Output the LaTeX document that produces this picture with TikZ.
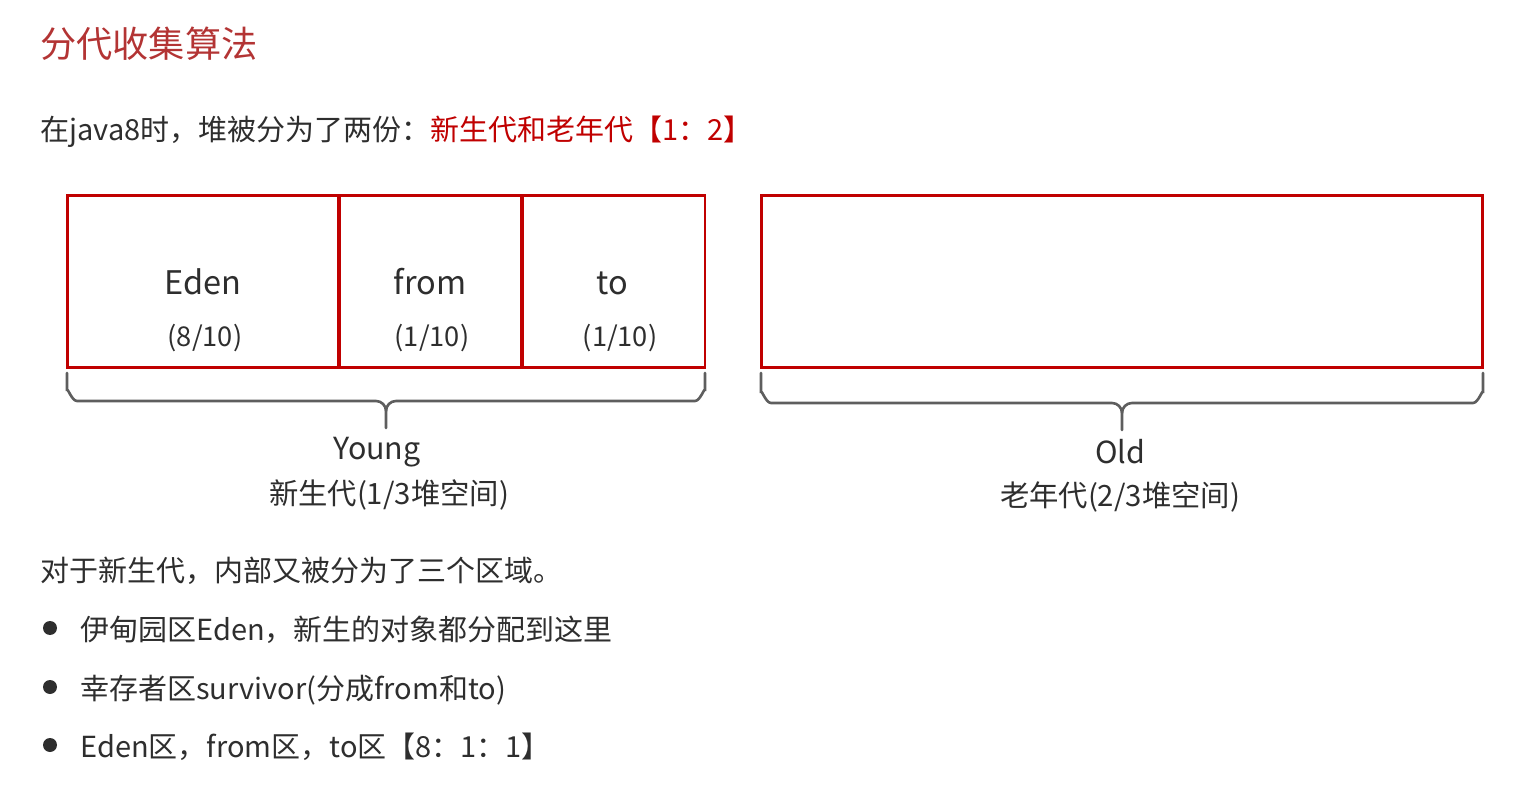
\documentclass[tikz,border=0pt]{standalone}
\usepackage{fontspec}
\setmainfont{Noto Sans CJK SC}
\usepackage{xcolor}
\usetikzlibrary{positioning}
\definecolor{heapred}{HTML}{C00000}
\definecolor{titlered}{HTML}{B33434}
\definecolor{ink}{HTML}{2E2E2E}
\definecolor{bracegray}{HTML}{5E5E5E}

\begin{document}
\begin{tikzpicture}[
	x=0.02cm, y=-0.02cm,
	every node/.style={text=ink, inner sep=0pt},
	cell/.style={draw=heapred, line width=1.7pt, minimum height=3.46cm},
	textline/.style={anchor=base west, font=\fontsize{16.5}{19}\selectfont},
	areaname/.style={anchor=base, font=\fontsize{18.5}{22}\selectfont},
	areafrac/.style={anchor=base, font=\fontsize{15.5}{18}\selectfont},
	genname/.style={anchor=base, font=\fontsize{17.3}{20}\selectfont},
	gennote/.style={anchor=base, font=\fontsize{16.7}{20}\selectfont},
	bracket/.style={draw=bracegray, line width=1.5pt, line cap=round}
	]
	\useasboundingbox (0,0) rectangle (1520,786);
	
	% heading
	\node[anchor=base west, text=titlered, font=\fontsize{20.6}{24}\selectfont] (title) at (40,58) {分代收集算法};
	\node[textline] (intro) at (40,141) {在java8时，堆被分为了两份：\textcolor{heapred}{新生代和老年代【1：2】}};
	
	% heap
	\node[cell, minimum width=5.44cm] (eden) at (203,281.5) {};
	\node[cell, minimum width=3.66cm] (from) at (430.5,281.5) {};
	\node[cell, minimum width=3.66cm] (to) at (613.5,281.5) {};
	\node[cell, minimum width=14.44cm] (old) at (1122,281.5) {};
	
	\node[areaname] (edenname) at (203,295) {Eden};
	\node[areafrac] (edenfrac) at (205,347) {(8/10)};
	\node[areaname] (fromname) at (430,295) {from};
	\node[areafrac] (fromfrac) at (432,347) {(1/10)};
	\node[areaname] (toname) at (612,295) {to};
	\node[areafrac] (tofrac) at (620,347) {(1/10)};
	
	% brackets
	\draw[bracket] (67,373) -- (67,391) to[out=90,in=180] (77,401) -- (376,401) to[out=0,in=90] (386,411) -- (386,428);
	\draw[bracket] (705,373) -- (705,391) to[out=90,in=0] (695,401) -- (396,401) to[out=180,in=90] (386,411);
	\draw[bracket] (761,373) -- (761,393) to[out=90,in=180] (771,403) -- (1112,403) to[out=0,in=90] (1122,413) -- (1122,430);
	\draw[bracket] (1483,373) -- (1483,393) to[out=90,in=0] (1473,403) -- (1132,403) to[out=180,in=90] (1122,413);
	
	\node[genname] (young) at (377,460) {Young};
	\node[gennote] (youngnote) at (389,504) {新生代(1/3堆空间)};
	\node[genname] (oldname) at (1120,464) {Old};
	\node[gennote] (oldnote) at (1120,506) {老年代(2/3堆空间)};
	
	% notes
	\node[textline] (regions) at (40,581) {对于新生代，内部又被分为了三个区域。};
	\fill[ink] (50,628) circle (7);
	\fill[ink] (50,687) circle (7);
	\fill[ink] (50,745) circle (7);
	\node[textline] (item1) at (80,640) {伊甸园区Eden，新生的对象都分配到这里};
	\node[textline] (item2) at (80,699) {幸存者区survivor(分成from和to)};
	\node[textline] (item3) at (80,757) {Eden区，from区，to区【8：1：1】};
	
\end{tikzpicture}
\end{document}
